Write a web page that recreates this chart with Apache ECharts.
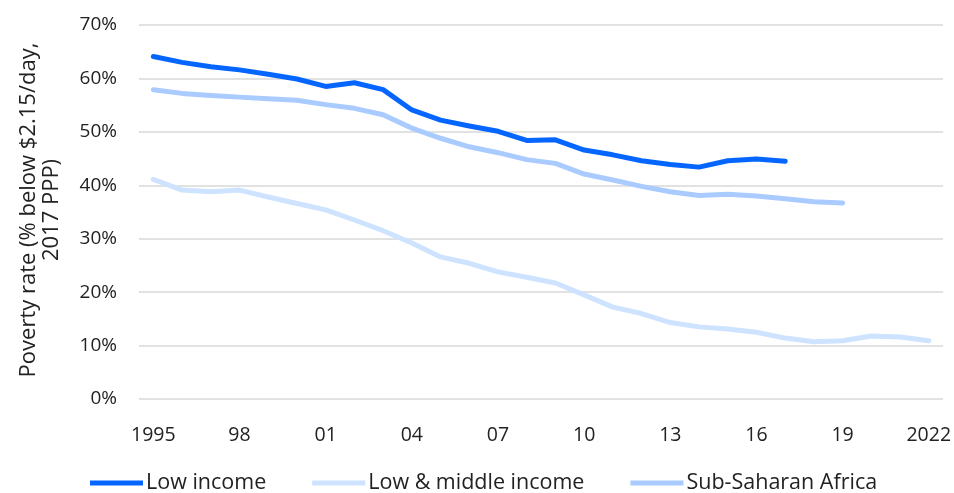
<!DOCTYPE html>
<html>
<head>
<meta charset="utf-8">
<script src="https://cdn.jsdelivr.net/npm/echarts@6/dist/echarts.min.js"></script>
<style>
  html, body { margin: 0; padding: 0; background: #fff; }
  #chart { width: 954px; height: 493px; }
</style>
</head>
<body>
<div id="chart"></div>
<script>
// years on the x axis
const years = [1995, 1996, 1997, 1998, 1999, 2000, 2001, 2002, 2003, 2004, 2005, 2006, 2007, 2008,
  2009, 2010, 2011, 2012, 2013, 2014, 2015, 2016, 2017, 2018, 2019, 2020, 2021, 2022];

// tick labels shown every 3 years
const tickYears = [1995, 1998, 2001, 2004, 2007, 2010, 2013, 2016, 2019, 2022];
const tickLabels = ['1995', '98', '01', '04', '07', '10', '13', '16', '19', '2022'];

// poverty rates in %
const lowIncome = [64.1, 63.0, 62.2, 61.6, 60.8, 59.9, 58.5, 59.2, 57.9, 54.1, 52.2, 51.1, 50.1, 48.4,
  48.5, 46.6, 45.7, 44.6, 43.9, 43.4, 44.6, 44.9, 44.5];
const lowMiddleIncome = [41.1, 39.1, 38.8, 39.1, 37.8, 36.6, 35.4, 33.5, 31.5, 29.2, 26.6, 25.4, 23.8, 22.8,
  21.7, 19.5, 17.2, 16.0, 14.3, 13.5, 13.1, 12.5, 11.4, 10.7, 10.9, 11.8, 11.6, 10.9];
const subSaharanAfrica = [57.9, 57.2, 56.8, 56.5, 56.2, 55.9, 55.1, 54.4, 53.2, 50.7, 48.8, 47.2, 46.1, 44.8,
  44.1, 42.1, 41.0, 39.8, 38.8, 38.1, 38.3, 38.0, 37.5, 36.9, 36.7];

const chart = echarts.init(document.getElementById('chart'));
const font = 'Open Sans';

const options = {
  animation: false,
  textStyle: { fontFamily: font },
  grid: { left: 139, right: 7, top: 25, bottom: 94 },
  // y axis title, two centred lines
  graphic: [{
    type: 'text',
    x: 40,
    y: 210,
    rotation: Math.PI / 2,
    style: {
      text: 'Poverty rate (% below $2.15/day,\n2017 PPP)',
      font: '22px "Open Sans"',
      fill: '#222',
      textAlign: 'center',
      textVerticalAlign: 'middle',
      lineHeight: 23
    }
  }],
  legend: {
    left: 85,
    bottom: -6,
    itemWidth: 53,
    itemHeight: 5,
    itemGap: 46,
    icon: 'rect',
    textStyle: { fontSize: 21.5, color: '#222', fontFamily: font, padding: [0, 0, 0, -2] },
    data: ['Low income', 'Low & middle income', 'Sub-Saharan Africa']
  },
  xAxis: {
    type: 'category',
    data: years.map(String),
    boundaryGap: true,
    axisLine: { show: false },
    axisTick: { show: false },
    axisLabel: {
      interval: 2,
      margin: 26,
      fontSize: 19.5,
      color: '#222',
      formatter: v => {
        const i = tickYears.indexOf(Number(v));
        return i >= 0 ? tickLabels[i] : '';
      }
    }
  },
  yAxis: {
    type: 'value',
    min: 0,
    max: 70,
    interval: 10,
    axisLabel: { fontSize: 19, color: '#222', margin: 22, formatter: '{value}%' },
    splitLine: { lineStyle: { color: '#d9d9d9', width: 1.5 } }
  },
  series: [
    {
      name: 'Low income', type: 'line', data: lowIncome, symbol: 'none',
      lineStyle: { width: 5, color: '#0466ff', cap: 'round', join: 'round' }, itemStyle: { color: '#0466ff' }
    },
    {
      name: 'Low & middle income', type: 'line', data: lowMiddleIncome, symbol: 'none',
      lineStyle: { width: 5, color: '#cde3ff', cap: 'round', join: 'round' }, itemStyle: { color: '#cde3ff' }
    },
    {
      name: 'Sub-Saharan Africa', type: 'line', data: subSaharanAfrica, symbol: 'none',
      lineStyle: { width: 5, color: '#a9cbff', cap: 'round', join: 'round' }, itemStyle: { color: '#a9cbff' }
    }
  ]
};

chart.setOption(options);
</script>
</body>
</html>
